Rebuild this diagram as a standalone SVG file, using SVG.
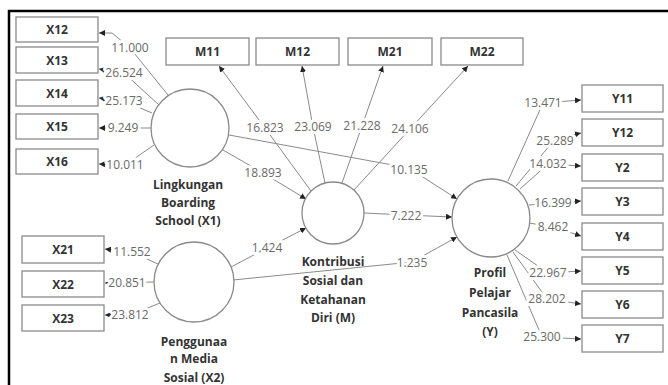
<svg xmlns="http://www.w3.org/2000/svg" width="668" height="385" viewBox="0 0 668 385">
<style>
.box{fill:#fff;stroke:#8a8a8a;stroke-width:1.3}
.lat{fill:#fff;stroke:#8a8a8a;stroke-width:1.3}
.bl{font-family:"Open Sans","Noto Sans",sans-serif;font-size:12px;font-weight:bold;fill:#333;text-anchor:middle}
.ll{font-family:"Open Sans","Noto Sans",sans-serif;font-size:12px;font-weight:bold;fill:#333;text-anchor:middle}
.num{font-family:"Open Sans","Noto Sans",sans-serif;font-size:12px;fill:#6a6a6a;text-anchor:middle;stroke:#fff;stroke-width:6;paint-order:stroke;stroke-linejoin:round}
.c{fill:none;stroke:#8a8a8a;stroke-width:1;marker-end:url(#ah)}
</style>
<defs>
<marker id="ah" markerUnits="userSpaceOnUse" markerWidth="6" markerHeight="6" refX="6" refY="3" orient="auto">
<path d="M0,0 L6,3 L0,6 z" fill="#222"/>
</marker>
</defs>
<rect width="668" height="385" fill="#fff"/>
<path d="M9,385 V11 H668" fill="none" stroke="#000" stroke-width="2.5"/>
<g id="connectors">
<path class="c" d="M168,95 L130,48 L112,33 L99,33"/>
<path class="c" d="M159,105 L124,73 L99,69"/>
<path class="c" d="M152,113 L124,101 L99,98"/>
<path class="c" d="M151,128 L99,128"/>
<path class="c" d="M154,145 L125,165 L99,164"/>
<path class="c" d="M311,191 L265,128 L219,66"/>
<path class="c" d="M325,183 L313,127 L302,66"/>
<path class="c" d="M342,183 L362,126 L383,66"/>
<path class="c" d="M354,190 L410,129 L468,66"/>
<path class="c" d="M223,150 L263,173 L306,199"/>
<path class="c" d="M229,135 L409,168 L457,199"/>
<path class="c" d="M364,213 L406,215 L452,217"/>
<path class="c" d="M231,267 L267,248 L306,228"/>
<path class="c" d="M233,280 L412,262 L457,237"/>
<path class="c" d="M508,181 L543,103 L581,100"/>
<path class="c" d="M516,186 L555,139 L581,133"/>
<path class="c" d="M520,189 L548,164 L581,166"/>
<path class="c" d="M529,205 L553,203 L581,201"/>
<path class="c" d="M529,223 L553,227 L581,236"/>
<path class="c" d="M515,250 L548,273 L581,271"/>
<path class="c" d="M513,252 L547,299 L581,304"/>
<path class="c" d="M507,255 L542,337 L581,339"/>
<path class="c" d="M160,265 L132,252 L105,249"/>
<path class="c" d="M154,282 L105,283"/>
<path class="c" d="M160,303 L130,315 L105,315"/>
<text class="num" x="130" y="52">11.000</text>
<text class="num" x="124" y="77">26.524</text>
<text class="num" x="124" y="105">25.173</text>
<text class="num" x="123" y="132">9.249</text>
<text class="num" x="125" y="169">10.011</text>
<text class="num" x="265" y="132">16.823</text>
<text class="num" x="313" y="131">23.069</text>
<text class="num" x="362" y="130">21.228</text>
<text class="num" x="410" y="133">24.106</text>
<text class="num" x="263" y="177">18.893</text>
<text class="num" x="409" y="174">10.135</text>
<text class="num" x="406" y="220">7.222</text>
<text class="num" x="267" y="252">1.424</text>
<text class="num" x="412" y="267">1.235</text>
<text class="num" x="543" y="107">13.471</text>
<text class="num" x="555" y="145">25.289</text>
<text class="num" x="548" y="168">14.032</text>
<text class="num" x="553" y="207">16.399</text>
<text class="num" x="553" y="231">8.462</text>
<text class="num" x="548" y="277">22.967</text>
<text class="num" x="547" y="303">28.202</text>
<text class="num" x="542" y="341">25.300</text>
<text class="num" x="132" y="256">11.552</text>
<text class="num" x="127" y="287">20.851</text>
<text class="num" x="130" y="319">23.812</text>
</g>
<g id="X12"><rect class="box" x="16" y="17" width="82" height="25"/><text class="bl" x="57" y="34">X12</text></g>
<g id="X13"><rect class="box" x="16" y="47" width="82" height="26"/><text class="bl" x="57" y="64.5">X13</text></g>
<g id="X14"><rect class="box" x="16" y="80" width="82" height="26"/><text class="bl" x="57" y="97.5">X14</text></g>
<g id="X15"><rect class="box" x="16" y="114" width="82" height="25"/><text class="bl" x="57" y="131">X15</text></g>
<g id="X16"><rect class="box" x="16" y="149" width="82" height="25"/><text class="bl" x="57" y="166">X16</text></g>
<g id="M11"><rect class="box" x="166" y="38" width="83" height="27"/><text class="bl" x="207.5" y="56">M11</text></g>
<g id="M12"><rect class="box" x="256" y="38" width="83" height="27"/><text class="bl" x="297.5" y="56">M12</text></g>
<g id="M21"><rect class="box" x="348" y="38" width="84" height="27"/><text class="bl" x="390" y="56">M21</text></g>
<g id="M22"><rect class="box" x="441" y="38" width="82" height="27"/><text class="bl" x="482" y="56">M22</text></g>
<g id="Y11"><rect class="box" x="582" y="85" width="81" height="27"/><text class="bl" x="622.5" y="103">Y11</text></g>
<g id="Y12"><rect class="box" x="582" y="119" width="81" height="27"/><text class="bl" x="622.5" y="137">Y12</text></g>
<g id="Y2"><rect class="box" x="582" y="154" width="81" height="27"/><text class="bl" x="622.5" y="172">Y2</text></g>
<g id="Y3"><rect class="box" x="582" y="188" width="81" height="27"/><text class="bl" x="622.5" y="206">Y3</text></g>
<g id="Y4"><rect class="box" x="582" y="223" width="81" height="27"/><text class="bl" x="622.5" y="241">Y4</text></g>
<g id="Y5"><rect class="box" x="582" y="257" width="81" height="27"/><text class="bl" x="622.5" y="275">Y5</text></g>
<g id="Y6"><rect class="box" x="582" y="291" width="81" height="27"/><text class="bl" x="622.5" y="309">Y6</text></g>
<g id="Y7"><rect class="box" x="582" y="325" width="81" height="27"/><text class="bl" x="622.5" y="343">Y7</text></g>
<g id="X21"><rect class="box" x="22" y="236" width="82" height="27"/><text class="bl" x="63" y="254">X21</text></g>
<g id="X22"><rect class="box" x="22" y="271" width="82" height="26"/><text class="bl" x="63" y="288.5">X22</text></g>
<g id="X23"><rect class="box" x="22" y="305" width="82" height="26"/><text class="bl" x="63" y="322.5">X23</text></g>
<g id="X1"><circle class="lat" cx="190" cy="128" r="39"/>
<text class="ll" x="188" y="189">Lingkungan</text><text class="ll" x="188" y="207">Boarding</text><text class="ll" x="188" y="225">School (X1)</text></g>
<g id="M"><circle class="lat" cx="333" cy="213" r="31"/>
<text class="ll" x="333" y="266">Kontribusi</text><text class="ll" x="333" y="285">Sosial dan</text><text class="ll" x="333" y="304">Ketahanan</text><text class="ll" x="333" y="322">Diri (M)</text></g>
<g id="Y"><circle class="lat" cx="491" cy="218" r="39"/>
<text class="ll" x="490" y="277">Profil</text><text class="ll" x="490" y="297">Pelajar</text><text class="ll" x="490" y="317">Pancasila</text><text class="ll" x="490" y="336">(Y)</text></g>
<g id="X2"><circle class="lat" cx="194" cy="282" r="40"/>
<text class="ll" x="194" y="346">Penggunaa</text><text class="ll" x="194" y="363">n Media</text><text class="ll" x="194" y="382">Sosial (X2)</text></g>
</svg>
